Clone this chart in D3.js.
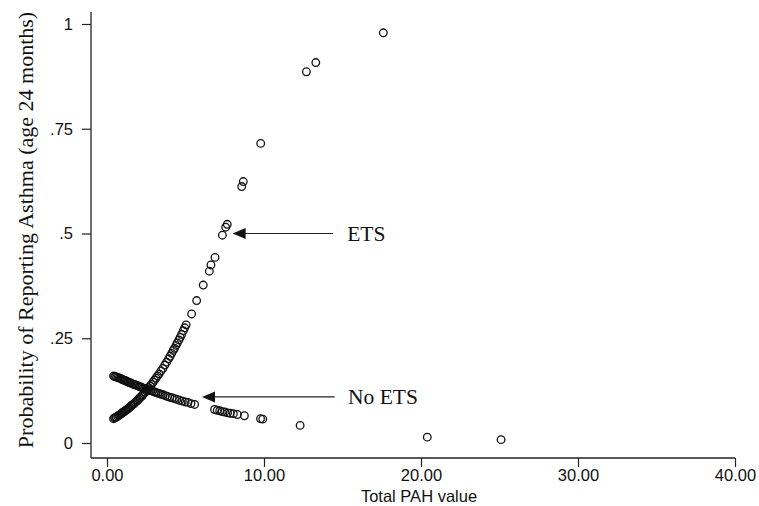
<!DOCTYPE html>
<html>
<head>
<meta charset="utf-8">
<script src="https://cdn.jsdelivr.net/npm/d3@7"></script>
<style>
  body { margin: 0; background: #fff; }
  .tick text { font-family: "Liberation Sans", Arial, sans-serif; font-size: 16.5px; fill: #111; }
  .tick line { stroke: #222; stroke-width: 1.2; }
</style>
</head>
<body>
<script>
// predicted probabilities, children with ETS exposure
var etsPah = [0.42, 0.48, 0.55, 0.60, 0.68, 0.74, 0.80, 0.87, 0.93, 1.00, 1.06, 1.12, 1.19, 1.25,
  1.31, 1.38, 1.45, 1.52, 1.58, 1.66, 1.72, 1.80, 1.88, 1.95, 2.02, 2.10, 2.18, 2.26, 2.34, 2.42,
  2.50, 2.58, 2.66, 2.75, 2.84, 2.93, 3.02, 3.12, 3.22, 3.32, 3.44, 3.56, 3.68, 3.80, 3.92, 4.02,
  4.12, 4.22, 4.30, 4.40, 4.48, 4.58, 4.66, 4.75, 4.86, 4.95, 5.04, 5.39, 5.71, 6.13, 6.52, 6.62,
  6.88, 7.35, 7.56, 7.66, 8.58, 8.68, 9.79, 12.7, 13.3, 17.6];
var etsProb = [.058, .060, .061, .062, .064, .066, .067, .069, .071, .073, .074, .076, .078, .079,
  .081, .083, .085, .088, .090, .092, .094, .097, .100, .102, .105, .108, .111, .114, .118, .121,
  .125, .128, .132, .136, .140, .145, .150, .155, .160, .165, .172, .178, .186, .193, .201, .207,
  .214, .221, .226, .233, .239, .246, .252, .259, .268, .275, .282, .308, .340, .377, .410, .425,
  .443, .496, .515, .522, .612, .624, .715, .886, .908, .979];

// predicted probabilities, children without ETS exposure
var noEtsPah = [0.42, 0.48, 0.55, 0.62, 0.70, 0.78, 0.85, 0.93, 1.00, 1.08, 1.15, 1.23, 1.30, 1.38,
  1.46, 1.54, 1.62, 1.70, 1.78, 1.86, 1.95, 2.04, 2.12, 2.21, 2.30, 2.40, 2.50, 2.60, 2.70, 2.80,
  2.90, 3.00, 3.10, 3.22, 3.34, 3.46, 3.58, 3.72, 3.86, 4.00, 4.15, 4.30, 4.45, 4.62, 4.80, 4.98,
  5.16, 5.35, 5.58, 6.85, 7.02, 7.18, 7.34, 7.50, 7.68, 7.85, 8.05, 8.30, 8.75, 9.78, 9.92, 12.3,
  20.4, 25.1];
var noEtsProb = [.160, .159, .158, .157, .156, .155, .154, .153, .151, .150, .149, .148, .146, .145,
  .144, .143, .141, .140, .139, .138, .137, .135, .134, .133, .131, .130, .129, .127, .126, .125,
  .124, .122, .121, .119, .118, .116, .115, .113, .111, .109, .108, .106, .104, .102, .100, .098,
  .097, .094, .092, .080, .078, .077, .075, .074, .072, .071, .070, .068, .065, .058, .057, .042,
  .014, .008];

var xTicks = [0, 10, 20, 30, 40];
var xTickLabels = ["0.00", "10.00", "20.00", "30.00", "40.00"];
var yTicks = [0, 0.25, 0.5, 0.75, 1];
var yTickLabels = ["0", ".25", ".5", ".75", "1"];

// arrow labels: y value, arrow tip / tail and text start on the x scale
var labels = ["ETS", "No ETS"];
var labelProb = [0.5, 0.11];
var arrowTip = [8.0, 6.05];
var arrowTail = [14.4, 14.5];
var labelPah = [15.3, 15.35];

var width = 759, height = 506;
var svg = d3.select("body").append("svg")
    .attr("width", width)
    .attr("height", height);

var x = d3.scaleLinear().domain([0, 40]).range([107, 735]),
    y = d3.scaleLinear().domain([0, 1]).range([443, 24]);

var axisX = 91, axisY = 458;

// y axis
var gy = svg.append("g")
    .attr("transform", "translate(" + axisX + ",0)")
    .call(d3.axisLeft(y).tickValues(yTicks)
        .tickFormat(function (d, i) { return yTickLabels[i]; })
        .tickSize(9).tickPadding(9));
gy.select(".domain").remove();
svg.append("line")
    .attr("x1", axisX).attr("x2", axisX)
    .attr("y1", 12).attr("y2", axisY)
    .attr("stroke", "#222").attr("stroke-width", 1.3);

// x axis
var gx = svg.append("g")
    .attr("transform", "translate(0," + axisY + ")")
    .call(d3.axisBottom(x).tickValues(xTicks)
        .tickFormat(function (d, i) { return xTickLabels[i]; })
        .tickSize(9).tickPadding(2));
gx.select(".domain").remove();
svg.append("line")
    .attr("x1", axisX).attr("x2", x(40))
    .attr("y1", axisY).attr("y2", axisY)
    .attr("stroke", "#222").attr("stroke-width", 1.3);

// titles
svg.append("text")
    .attr("transform", "translate(25,230) rotate(-90)")
    .attr("text-anchor", "middle")
    .attr("dy", "0.35em")
    .style("font-family", "'Liberation Serif', 'Times New Roman', serif")
    .style("font-size", "22px")
    .attr("fill", "#111")
    .text("Probability of Reporting Asthma (age 24 months)");

svg.append("text")
    .attr("x", 419).attr("y", 502)
    .attr("text-anchor", "middle")
    .style("font-family", "'Liberation Sans', Arial, sans-serif")
    .style("font-size", "16.5px")
    .attr("fill", "#111")
    .text("Total PAH value");

// points
var points = svg.append("g").attr("class", "points");
function drawSeries(xs, ps) {
    points.selectAll(null)
        .data(xs.map(function (v, i) { return [v, ps[i]]; }))
        .enter().append("circle")
        .attr("cx", function (d) { return x(d[0]); })
        .attr("cy", function (d) { return y(d[1]); })
        .attr("r", 3.8)
        .attr("fill", "none")
        .attr("stroke", "#111")
        .attr("stroke-width", 1.3);
}
drawSeries(etsPah, etsProb);
drawSeries(noEtsPah, noEtsProb);

// arrows and labels
var ann = svg.append("g").attr("class", "annotations");
labels.forEach(function (lab, i) {
    var ty = y(labelProb[i]), tx = x(arrowTip[i]);
    ann.append("line")
        .attr("x1", tx + 8).attr("x2", x(arrowTail[i]))
        .attr("y1", ty).attr("y2", ty)
        .attr("stroke", "#222").attr("stroke-width", 1.2);
    ann.append("path")
        .attr("d", "M" + tx + "," + ty + " l13,-5.5 l0,11 Z")
        .attr("fill", "#111");
    ann.append("text")
        .attr("x", x(labelPah[i])).attr("y", ty)
        .attr("dy", "0.35em")
        .style("font-family", "'Liberation Serif', 'Times New Roman', serif")
        .style("font-size", "21.5px")
        .attr("fill", "#111")
        .text(lab);
});
</script>
</body>
</html>
